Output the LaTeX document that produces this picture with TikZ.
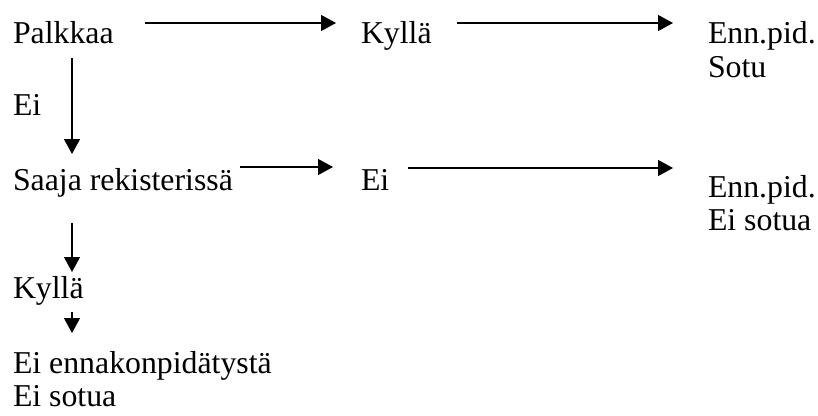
\documentclass[tikz,border=0pt]{standalone}
\usepackage{fontspec}
\setmainfont{Liberation Serif}
\usetikzlibrary{arrows.meta}
\begin{document}
\begin{tikzpicture}[x=1pt,y=-1pt,
  txt/.style={anchor=base west,inner sep=0pt,outer sep=0pt,font=\fontsize{31.8}{34}\selectfont},
  arr/.style={line width=1.3pt,-{Triangle[length=15pt,width=16pt]}}]
\useasboundingbox (0,0) rectangle (818,415);
\node[txt] (palkkaa) at (13,43) {Palkkaa};
\node[txt] (kylla1) at (361,43) {Kyllä};
\node[txt] (enn1) at (708,43) {Enn.pid.};
\node[txt] (sotu1) at (708,77) {Sotu};
\node[txt] (ei0) at (13,115) {Ei};
\node[txt] (saaja) at (13,190) {Saaja rekisterissä};
\node[txt] (ei1) at (361,190) {Ei};
\node[txt] (enn2) at (708,197) {Enn.pid.};
\node[txt] (sotu2) at (708,230) {Ei sotua};
\node[txt] (kylla2) at (13,298) {Kyllä};
\node[txt] (eienn) at (13,373) {Ei ennakonpidätystä};
\node[txt] (eisotua) at (13,406) {Ei sotua};
\draw[arr] ([shift={(31,-20)}]palkkaa.base east) -- ([shift={(-25,-20)}]kylla1.base west);
\draw[arr] ([shift={(25,-20)}]kylla1.base east) -- ([shift={(-35,-20)}]enn1.base west);
\draw[arr] ([shift={(7,-23)}]saaja.base east) -- ([shift={(-28,-23)}]ei1.base west);
\draw[arr] ([shift={(19,-22)}]ei1.base east) -- ([shift={(-35,-29)}]enn2.base west);
\draw[arr] ([shift={(59,15)}]palkkaa.base west) -- ([shift={(59,-36)}]saaja.base west);
\draw[arr] ([shift={(59,33)}]saaja.base west) -- ([shift={(59,-26)}]kylla2.base west);
\draw[arr] ([shift={(59,14)}]kylla2.base west) -- ([shift={(59,-40)}]eienn.base west);
\end{tikzpicture}
\end{document}
